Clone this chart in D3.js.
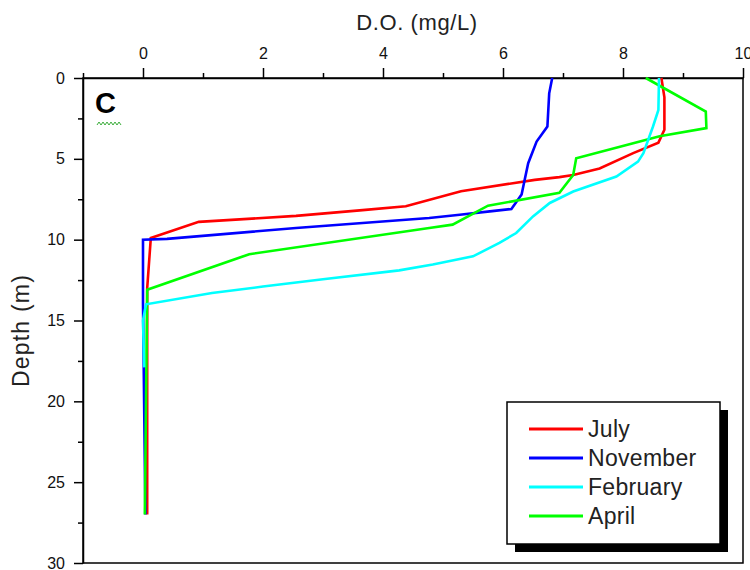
<!DOCTYPE html>
<html>
<head>
<meta charset="utf-8">
<script src="https://cdn.jsdelivr.net/npm/d3@7"></script>
<style>
  body { margin: 0; background: #fff; }
  svg { display: block; font-family: "Liberation Sans", Arial, sans-serif; }
</style>
</head>
<body>
<div id="chart"></div>
<script>
// D.O. profiles by depth
const months = ["July", "November", "February", "April"];
const monthColors = ["#ff0000", "#0000ff", "#00ffff", "#00ff00"];

const julyDO = [8.64, 8.69, 8.69, 8.59, 8.17, 7.61, 7.17, 6.94, 6.53, 5.30, 4.38, 3.66, 2.55, 0.93, 0.13, 0.07, 0.07];
const julyDepth = [0, 1.2, 3.2, 4.0, 4.65, 5.6, 6.0, 6.13, 6.3, 7.0, 7.93, 8.17, 8.53, 8.9, 9.9, 13, 27];

const novDO = [6.82, 6.77, 6.74, 6.56, 6.42, 6.35, 6.31, 6.14, 5.78, 5.28, 4.77, 2.55, 0.4, 0.0, 0.0, 0.04];
const novDepth = [0, 0.95, 3.0, 3.93, 5.27, 6.5, 7.2, 8.1, 8.25, 8.46, 8.66, 9.28, 9.95, 10, 14, 27];

const febDO = [8.60, 8.59, 8.50, 8.34, 8.25, 7.89, 7.17, 6.78, 6.50, 6.22, 5.94, 5.50, 4.83, 4.27, 3.0, 2.0, 1.15, 0.05, 0.0, 0.02];
const febDepth = [0, 1.98, 3.0, 4.65, 5.17, 6.09, 7.02, 7.73, 8.56, 9.59, 10.2, 11.03, 11.54, 11.9, 12.45, 12.9, 13.3, 14.0, 15, 17.9];

const aprDO = [8.38, 9.38, 9.39, 8.61, 8.17, 7.22, 7.17, 6.94, 5.75, 5.16, 4.77, 1.77, 0.07, 0.03];
const aprDepth = [0, 2.08, 3.1, 3.6, 4.03, 4.96, 6.0, 7.1, 7.9, 9.07, 9.28, 10.9, 13.1, 27];

const doTicks = [0, 2, 4, 6, 8, 10];
const doMinor = [-1, 1, 3, 5, 7, 9];
const depthTicks = [0, 5, 10, 15, 20, 25, 30];
const depthMinor = [2.5, 7.5, 12.5, 17.5, 22.5, 27.5];

const width = 750, height = 570;
const plotLeft = 83, plotRight = 743, plotTop = 78, plotBottom = 563;

const svg = d3.select("#chart").append("svg")
  .attr("width", width)
  .attr("height", height);

const x = d3.scaleLinear().domain([-1, 10]).range([plotLeft, plotRight]);
const y = d3.scaleLinear().domain([0, 30]).range([plotTop, plotBottom]);

// frame (right + bottom sides have no ticks)
svg.append("rect")
  .attr("x", plotLeft).attr("y", plotTop)
  .attr("width", plotRight - plotLeft).attr("height", plotBottom - plotTop)
  .attr("fill", "none").attr("stroke", "#000").attr("stroke-width", 1.5);

// minor ticks first so the major axis sits on top
svg.append("g")
  .attr("transform", `translate(0,${plotTop})`)
  .call(d3.axisTop(x).tickValues(doMinor).tickSize(5).tickFormat(""))
  .call(g => g.select(".domain").remove());

svg.append("g")
  .attr("transform", `translate(${plotLeft},0)`)
  .call(d3.axisLeft(y).tickValues(depthMinor).tickSize(5).tickFormat(""))
  .call(g => g.select(".domain").remove());

svg.append("g")
  .attr("transform", `translate(0,${plotTop})`)
  .call(d3.axisTop(x).tickValues(doTicks).tickSize(10).tickPadding(9).tickSizeOuter(0));

svg.append("g")
  .attr("transform", `translate(${plotLeft},0)`)
  .call(d3.axisLeft(y).tickValues(depthTicks).tickSize(9).tickPadding(9).tickSizeOuter(0));

svg.selectAll(".tick line").attr("stroke", "#000").attr("stroke-width", 1.5);
svg.selectAll(".domain").attr("stroke", "#000").attr("stroke-width", 1.5);
svg.selectAll(".tick text")
  .attr("font-family", "'Liberation Sans', Arial, sans-serif")
  .attr("font-size", "16px")
  .attr("fill", "#111");

// axis titles
svg.append("text")
  .attr("x", (x(-1) + x(10)) / 2 + 4)
  .attr("y", 30)
  .attr("text-anchor", "middle")
  .attr("font-size", "22px")
  .attr("letter-spacing", "0.6px")
  .attr("fill", "#222")
  .text("D.O. (mg/L)");

svg.append("text")
  .attr("transform", `translate(29,${(plotTop + plotBottom) / 2 + 10}) rotate(-90)`)
  .attr("text-anchor", "middle")
  .attr("font-size", "23px")
  .attr("letter-spacing", "1.2px")
  .attr("fill", "#222")
  .text("Depth (m)");

// profiles
const series = [
  { name: months[0], color: monthColors[0], dox: julyDO, depth: julyDepth },
  { name: months[1], color: monthColors[1], dox: novDO, depth: novDepth },
  { name: months[3], color: monthColors[3], dox: aprDO, depth: aprDepth },
  { name: months[2], color: monthColors[2], dox: febDO, depth: febDepth }
];

const line = d3.line()
  .x(d => x(d[0]))
  .y(d => y(d[1]));

svg.selectAll(".profile")
  .data(series)
  .enter()
  .append("path")
  .attr("class", "profile")
  .attr("fill", "none")
  .attr("stroke", d => d.color)
  .attr("stroke-width", 2.6)
  .attr("stroke-linejoin", "miter")
  .attr("d", d => line(d.dox.map((v, i) => [v, d.depth[i]])));

// panel letter with the squiggle under it
svg.append("text")
  .attr("x", 95)
  .attr("y", 113)
  .attr("font-size", "29px")
  .attr("font-weight", "bold")
  .attr("fill", "#000")
  .text("C");

const squiggle = d3.range(0, 13).map(i => [97 + i * 2, i % 2 ? 122 : 125]);
svg.append("path")
  .attr("d", d3.line()(squiggle))
  .attr("fill", "none")
  .attr("stroke", "#3cae3c")
  .attr("stroke-width", 1);

// legend
const lg = { x: 507, y: 402, w: 213, h: 142 };
svg.append("rect")
  .attr("x", lg.x + 8).attr("y", lg.y + 8)
  .attr("width", lg.w).attr("height", lg.h)
  .attr("fill", "#000");
svg.append("rect")
  .attr("x", lg.x).attr("y", lg.y)
  .attr("width", lg.w).attr("height", lg.h)
  .attr("fill", "#fff").attr("stroke", "#000").attr("stroke-width", 1.5);

const legendRows = svg.selectAll(".legend-row")
  .data(months)
  .enter()
  .append("g")
  .attr("class", "legend-row")
  .attr("transform", (d, i) => `translate(${lg.x},${lg.y + 27 + i * 29})`);

legendRows.append("line")
  .attr("x1", 22).attr("x2", 76)
  .attr("stroke", (d, i) => monthColors[i])
  .attr("stroke-width", 3);

legendRows.append("text")
  .attr("x", 81)
  .attr("y", 8)
  .attr("font-size", "23px")
  .attr("letter-spacing", "0.3px")
  .attr("fill", "#222")
  .text(d => d);
</script>
</body>
</html>
